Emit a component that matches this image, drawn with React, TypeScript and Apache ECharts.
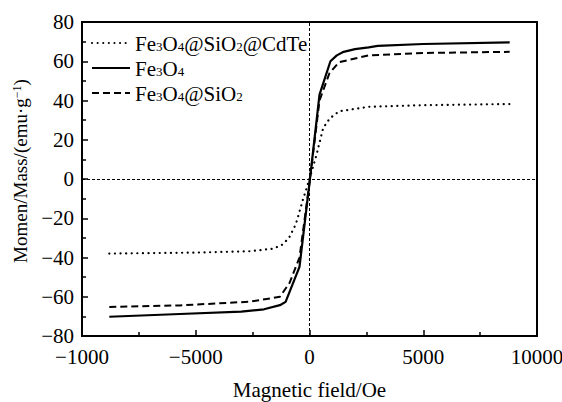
import React, { useEffect, useRef } from "react";
import * as echarts from "echarts";

const seriesNames = ["Fe3O4@SiO2@CdTe", "Fe3O4", "Fe3O4@SiO2"];

const cdteData: [number, number][] = [
  [-8800, -38], [-5000, -37.5], [-2600, -36.8], [-1600, -35.5], [-1200, -33.5],
  [-900, -30], [-600, -23], [-300, -11], [0, 0], [300, 12], [600, 26], [900, 31],
  [1300, 34.5], [2600, 36.8], [5000, 37.6], [8800, 38.2],
];

const fe3o4Data: [number, number][] = [
  [-8800, -70.2], [-5700, -68.8], [-3000, -67.6], [-2000, -66.4], [-1300, -64.3],
  [-1050, -62.6], [-440, -44.8], [0, -2], [440, 43], [920, 60], [1200, 63],
  [1500, 64.8], [2000, 66.2], [2600, 67.1], [3000, 67.8], [5000, 68.8], [8800, 69.6],
];

const sio2Data: [number, number][] = [
  [-8800, -65.2], [-5700, -64.4], [-2600, -62.5], [-1300, -60], [-880, -53],
  [-440, -40], [0, -2], [440, 40], [880, 54], [1300, 59.5], [2600, 63],
  [5000, 64.2], [8800, 64.8],
];

const xTicks = { min: -10000, max: 10000, interval: 5000 };
const yTicks = { min: -80, max: 80, interval: 20 };

const legendRich: Record<string, string> = {
  "Fe3O4@SiO2@CdTe": "{n|Fe}{s|3}{n|O}{s|4}{n|@SiO}{s|2}{n|@CdTe}",
  "Fe3O4": "{n|Fe}{s|3}{n|O}{s|4}",
  "Fe3O4@SiO2": "{n|Fe}{s|3}{n|O}{s|4}{n|@SiO}{s|2}",
};

const FONT = "'Liberation Serif', 'Times New Roman', serif";

function fmt(v: number): string {
  if (v === -10000) return "\u22121000";
  if (v < 0) return "\u2212" + Math.abs(v);
  return String(v);
}

export default function App() {
  const ref = useRef<HTMLDivElement>(null);
  useEffect(() => {
    if (!ref.current) return;
    const chart = echarts.init(ref.current, undefined, { renderer: "svg" });
    chart.setOption({
      animation: false,
      backgroundColor: "#fff",
      grid: {
        left: 82, top: 22, right: 25, bottom: 66,
        containLabel: false,
        outerBoundsMode: "none",
        show: true, borderColor: "#000", borderWidth: 2,
      },
      legend: {
        orient: "vertical",
        left: 86, top: 28,
        itemWidth: 38, itemHeight: 14, itemGap: 4,
        data: seriesNames,
        itemStyle: { opacity: 0 },
        formatter: (name: string) => legendRich[name] || name,
        textStyle: {
          color: "#000", fontFamily: FONT, fontSize: 21,
          rich: {
            n: { fontFamily: FONT, fontSize: 21, color: "#000", lineHeight: 20, verticalAlign: "top" },
            s: { fontFamily: FONT, fontSize: 13, color: "#000", lineHeight: 8, verticalAlign: "bottom" },
          },
        },
      },
      xAxis: {
        type: "value",
        min: xTicks.min, max: xTicks.max, interval: xTicks.interval,
        name: "Magnetic field/Oe",
        nameLocation: "middle", nameGap: 43,
        nameTextStyle: { color: "#000", fontFamily: FONT, fontSize: 21, lineHeight: 21 },
        axisLine: { show: true, onZero: false, lineStyle: { color: "#000", width: 2 } },
        axisTick: { show: true, inside: true, length: 6, lineStyle: { color: "#000", width: 1.5 } },
        minorTick: { show: true, splitNumber: 2, length: 4, lineStyle: { color: "#000", width: 1.5 } },
        splitLine: { show: false },
        axisLabel: { color: "#000", fontFamily: FONT, fontSize: 21, margin: 10, formatter: fmt },
      },
      yAxis: {
        type: "value",
        min: yTicks.min, max: yTicks.max, interval: yTicks.interval,
        name: "Momen/Mass/(emu\u00b7g{sup|\u22121})",
        nameLocation: "middle", nameGap: 51, nameRotate: 90,
        nameTextStyle: {
          color: "#000", fontFamily: FONT, fontSize: 19, padding: [0, 0, 0, 16],
          rich: {
            sup: { fontFamily: FONT, fontSize: 12, color: "#000", lineHeight: 8, verticalAlign: "top" },
          },
        },
        axisLine: { show: true, onZero: false, lineStyle: { color: "#000", width: 2 } },
        axisTick: { show: true, inside: true, length: 6, lineStyle: { color: "#000", width: 1.5 } },
        minorTick: { show: true, splitNumber: 2, length: 4, lineStyle: { color: "#000", width: 1.5 } },
        splitLine: { show: false },
        axisLabel: { color: "#000", fontFamily: FONT, fontSize: 21, margin: 8, formatter: fmt },
      },
      series: [
        {
          name: seriesNames[0], type: "line", data: cdteData, symbol: "none",
          itemStyle: { color: "#000" },
          lineStyle: { color: "#000", width: 2.2, type: [0.1, 5.5], cap: "round" },
          markLine: {
            silent: true, symbol: ["none", "none"], label: { show: false },
            lineStyle: { color: "#000", width: 1, type: [3, 2] },
            data: [{ xAxis: 0 }, { yAxis: 0 }],
          },
        },
        {
          name: seriesNames[1], type: "line", data: fe3o4Data, symbol: "none",
          itemStyle: { color: "#000" },
          lineStyle: { color: "#000", width: 2.2, type: "solid" },
        },
        {
          name: seriesNames[2], type: "line", data: sio2Data, symbol: "none",
          itemStyle: { color: "#000" },
          lineStyle: { color: "#000", width: 2, type: [7, 4] },
        },
      ],
    });
    return () => chart.dispose();
  }, []);
  return <div ref={ref} style={{ width: 562, height: 402, position: "absolute", left: 0, top: 0 }} />;
}
